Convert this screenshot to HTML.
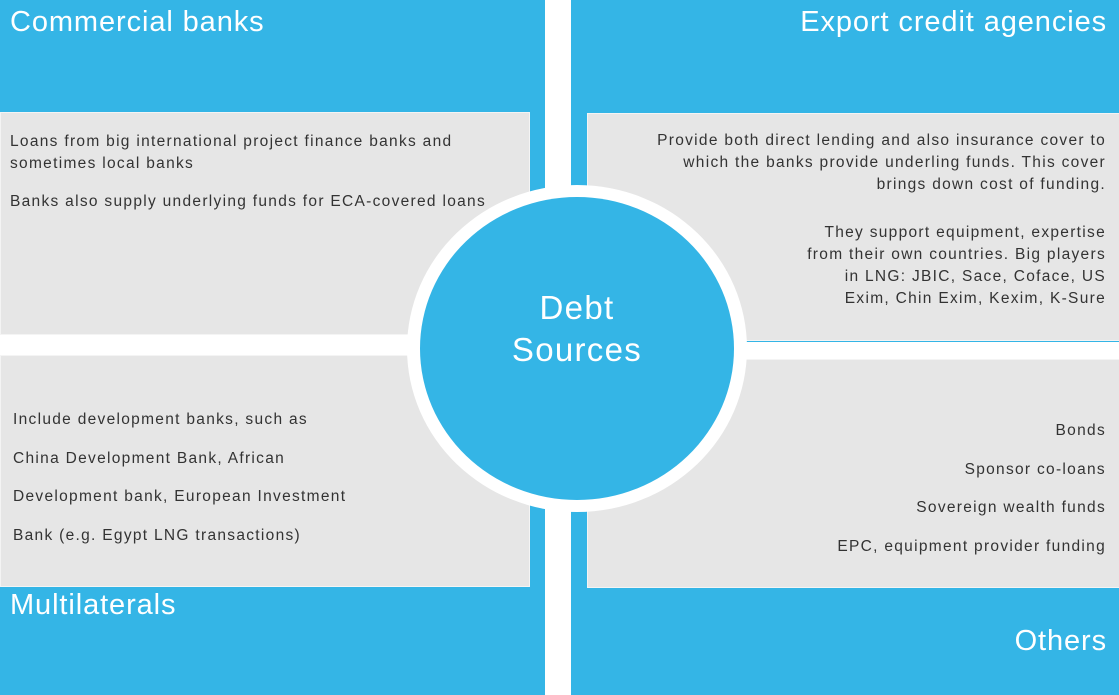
<!DOCTYPE html>
<html><head><meta charset="utf-8"><style>
body{margin:0;width:1119px;height:695px;position:relative;background:#fff;overflow:hidden;font-family:"Liberation Sans",sans-serif}
div{position:absolute;box-sizing:border-box}
.b{background:#34b5e6}
.g{background:#e6e6e6;border:1px solid #f4f4f4}
.t{color:#fff;font-size:29px;letter-spacing:0.9px;line-height:30px;white-space:nowrap}
.p{color:#333;font-size:15.5px;letter-spacing:1.3px;line-height:22px;white-space:nowrap}
.r{text-align:right}
</style></head><body>
<div class="b" style="left:0;top:0;width:545px;height:335px"></div>
<div class="b" style="left:571px;top:0;width:548px;height:342px"></div>
<div class="b" style="left:0;top:355px;width:545px;height:340px"></div>
<div class="b" style="left:571px;top:359px;width:548px;height:336px"></div>
<div class="g" style="left:0;top:112px;width:530px;height:223px"></div>
<div class="g" style="left:587px;top:113px;width:533px;height:228px"></div>
<div class="g" style="left:0;top:355px;width:530px;height:232px"></div>
<div class="g" style="left:587px;top:359px;width:533px;height:229px"></div>
<div class="t" style="left:10px;top:7px">Commercial banks</div>
<div class="t r" style="right:12px;top:7px">Export credit agencies</div>
<div class="t" style="left:10px;top:590px">Multilaterals</div>
<div class="t r" style="right:12px;top:626px">Others</div>
<div class="p" style="left:10px;top:131px">Loans from big international project finance banks and<br>sometimes local banks</div>
<div class="p" style="left:10px;top:191px">Banks also supply underlying funds for ECA-covered loans</div>
<div class="p" style="left:13px;top:401px;line-height:38.5px">Include development banks, such as<br>China Development Bank, African<br>Development bank, European Investment<br>Bank (e.g. Egypt LNG transactions)</div>
<div class="p r" style="right:13px;top:130px">Provide both direct lending and also insurance cover to<br>which the banks provide underling funds. This cover<br>brings down cost of funding.</div>
<div class="p r" style="right:13px;top:222px">They support equipment, expertise<br>from their own countries. Big players<br>in LNG: JBIC, Sace, Coface, US<br>Exim, Chin Exim, Kexim, K-Sure</div>
<div class="p r" style="right:13px;top:412px;line-height:38.5px">Bonds<br>Sponsor co-loans<br>Sovereign wealth funds<br>EPC, equipment provider funding</div>
<div style="left:407px;top:185px;width:340px;height:327px;border-radius:50%;background:#fff"></div>
<div class="b" style="left:420px;top:197px;width:314px;height:303px;border-radius:50%"></div>
<div style="left:420px;top:287px;width:314px;text-align:center;color:#fff;font-size:33px;letter-spacing:1.3px;line-height:42px">Debt<br>Sources</div>
</body></html>
